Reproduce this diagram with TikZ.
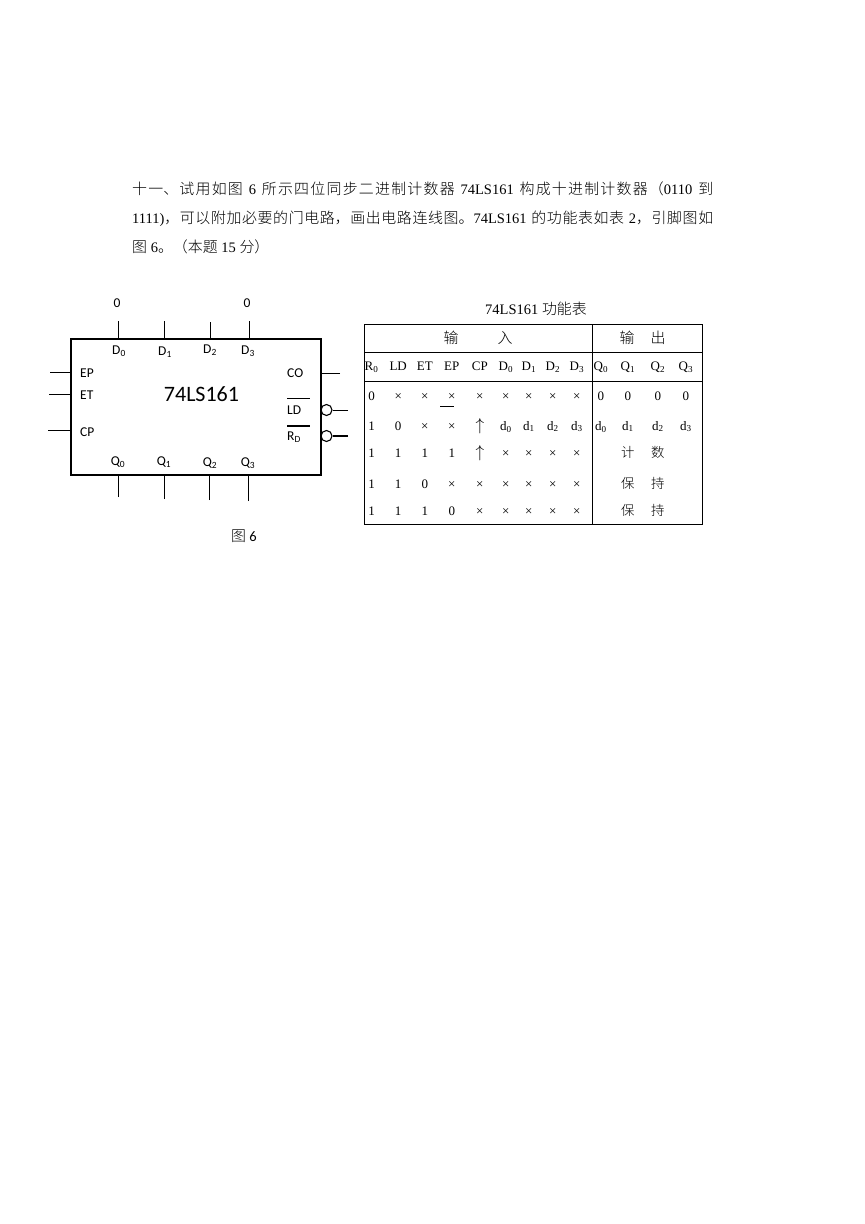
\documentclass[tikz,border=0pt]{standalone}
\usepackage{fontspec}
\setmainfont{Liberation Serif}
\newfontfamily\cjk{Noto Sans CJK SC}[UprightFont=* Light,Scale=1.03]
\newfontfamily\chipfont{Carlito}
\newcommand{\zh}[1]{{\cjk #1}}
\newcommand{\uparr}{{\fontsize{19}{15}\selectfont$\uparrow$}}
\XeTeXlinebreaklocale "zh"
\XeTeXlinebreakskip=0pt plus 1pt
\usetikzlibrary{matrix}
\tikzset{
  chiplabel/.style={font=\chipfont\fontsize{13.5}{15}\selectfont,inner sep=0pt},
  sidelabel/.style={chiplabel,anchor=west},
  pinline/.style={line width=1pt},
  heavyline/.style={line width=1.5pt},
  headtext/.style={font=\fontsize{14.5}{16}\selectfont,inner sep=0pt},
}
\begin{document}
\begin{tikzpicture}[x=1pt,y=-1pt]
  \useasboundingbox (0,0) rectangle (865,1224);
  % question text
  \node (question) [anchor=north west,inner sep=0pt,text width=581pt,align=justify,
    font=\fontsize{14.5}{29}\selectfont] at (132,182)
  {\zh{十一、试用如图} 6 \zh{所示四位同步二进制计数器} 74LS161 \zh{构成十进制计数器（}0110 \zh{到}\linebreak
   1111)\zh{，可以附加必要的门电路，画出电路连线图。}74LS161 \zh{的功能表如表} 2\zh{，引脚图如}\linebreak
   \zh{图} 6\zh{。（本题} 15 \zh{分）}\par};

  % chip
  \node (chip) [draw,line width=1.1pt,minimum width=250pt,minimum height=136pt,inner sep=0pt] at (196,407) {};
  \node (name) [font=\chipfont\fontsize{22}{24}\selectfont,inner sep=0pt] at (201.5,394) {74LS161};
  \node (d0) [chiplabel] at (119,351) {D\textsubscript{0}};
  \node (d1) [chiplabel] at (165,352) {D\textsubscript{1}};
  \node (d2) [chiplabel] at (210,350) {D\textsubscript{2}};
  \node (d3) [chiplabel] at (248,351) {D\textsubscript{3}};
  \node (q0) [chiplabel] at (118,462) {Q\textsubscript{0}};
  \node (q1) [chiplabel] at (164,462) {Q\textsubscript{1}};
  \node (q2) [chiplabel] at (210,463) {Q\textsubscript{2}};
  \node (q3) [chiplabel] at (248,463) {Q\textsubscript{3}};
  \node (ep) [sidelabel] at (80,373) {EP};
  \node (et) [sidelabel] at (80,395) {ET};
  \node (cp) [sidelabel] at (80,432) {CP};
  \node (co) [sidelabel] at (287,373) {CO};
  \node (ld) [sidelabel] at (287,410) {LD};
  \node (rd) [sidelabel] at (287,437) {R\textsubscript{D}};
  \node (zeroa) [chiplabel] at (117,303) {0};
  \node (zerob) [chiplabel] at (247,303) {0};
  \node (ldbub) [draw,circle,line width=1.1pt,minimum size=11pt,inner sep=0pt] at (326.5,410) {};
  \node (rdbub) [draw,circle,line width=1.1pt,minimum size=11pt,inner sep=0pt] at (326.5,436) {};
  \node (figcap) [inner sep=0pt,font=\chipfont\fontsize{14.5}{16}\selectfont] at (244,536) {\zh{图} 6};

  % free ends of the pins
  \coordinate (d0top) at (118,321);
  \coordinate (d1top) at (164,321);
  \coordinate (d2top) at (210,322);
  \coordinate (d3top) at (249,321);
  \coordinate (q0end) at (118,497);
  \coordinate (q1end) at (164,499);
  \coordinate (q2end) at (209,500);
  \coordinate (q3end) at (248,501);
  \coordinate (epend) at (50,372);
  \coordinate (etend) at (49,394);
  \coordinate (cpend) at (48,430);
  \coordinate (coend) at (340,373);
  \coordinate (ldend) at (348,410);
  \coordinate (rdend) at (348,436);
  \path[pinline]
    (d0top) edge (d0top |- chip.north)
    (d1top) edge (d1top |- chip.north)
    (d2top) edge (d2top |- chip.north)
    (d3top) edge (d3top |- chip.north)
    (q0end) edge (q0end |- chip.south)
    (q1end) edge (q1end |- chip.south)
    (q2end) edge (q2end |- chip.south)
    (q3end) edge (q3end |- chip.south)
    (epend) edge (epend -| chip.west)
    (etend) edge (etend -| chip.west)
    (cpend) edge (cpend -| chip.west)
    (coend) edge (coend -| chip.east)
    (ldend) edge (ldbub);
  \path[heavyline] (rdend) edge (rdbub);
  \coordinate (ldbarw) at (287,398);
  \coordinate (ldbare) at (310,398);
  \coordinate (rdbarw) at (287,426);
  \coordinate (rdbare) at (310,426);
  \draw[line width=0.6pt] (ldbarw) -- (ldbare);
  \draw[heavyline] (rdbarw) -- (rdbare);

  % function table
  \node (tabtitle) [inner sep=0pt,font=\fontsize{14.5}{16}\selectfont] at (536,309) {74LS161 \zh{功能表}};
  \node (frame) [draw,line width=0.8pt,minimum width=338pt,minimum height=200pt,inner sep=0pt] at (533,424) {};
  \coordinate (hdra) at (364,352);
  \coordinate (hdrb) at (364,381);
  \coordinate (splitx) at (592,324);
  \draw[line width=0.8pt] (hdra) -- (hdra -| frame.east);
  \draw[line width=0.8pt] (hdrb) -- (hdrb -| frame.east);
  \draw[line width=0.8pt] (splitx) -- (splitx |- frame.south);
  \node (ina) [headtext] at (451,338) {\zh{输}};
  \node (inb) [headtext] at (505,338) {\zh{入}};
  \node (outa) [headtext] at (627,338) {\zh{输}};
  \node (outb) [headtext] at (658,338) {\zh{出}};
  \matrix (tbl) [matrix of nodes,matrix anchor=tbl-1-1.center,inner sep=0pt,
    nodes={inner sep=0pt,minimum width=16pt,minimum height=16pt,font=\fontsize{13}{15}\selectfont}]
    at (371.5,367)
  {
     R\textsubscript{0} &[10pt] LD &[10pt] ET &[11pt] EP &[12pt] CP &[10pt] D\textsubscript{0} &[7pt] D\textsubscript{1} &[8pt] D\textsubscript{2} &[8pt] D\textsubscript{3} &[8pt] Q\textsubscript{0} &[11pt] Q\textsubscript{1} &[14pt] Q\textsubscript{2} &[12pt] Q\textsubscript{3} \\[13pt]
     0 & × & × & × & × & × & × & × & × & 0 & 0 & 0 & 0 \\[13pt]
     1 & 0 & × & × & \uparr & d\textsubscript{0} & d\textsubscript{1} & d\textsubscript{2} & d\textsubscript{3} & d\textsubscript{0} & d\textsubscript{1} & d\textsubscript{2} & d\textsubscript{3} \\[10pt]
     1 & 1 & 1 & 1 & \uparr & × & × & × & × & & \zh{计} & \zh{数} & \\[13pt]
     1 & 1 & 0 & × & × & × & × & × & × & & \zh{保} & \zh{持} & \\[10pt]
     1 & 1 & 1 & 0 & × & × & × & × & × & & \zh{保} & \zh{持} & \\
  };
  \coordinate (marka) at (440,406);
  \coordinate (markb) at (454,406);
  \draw[line width=0.8pt] (marka) -- (markb);
\end{tikzpicture}
\end{document}
